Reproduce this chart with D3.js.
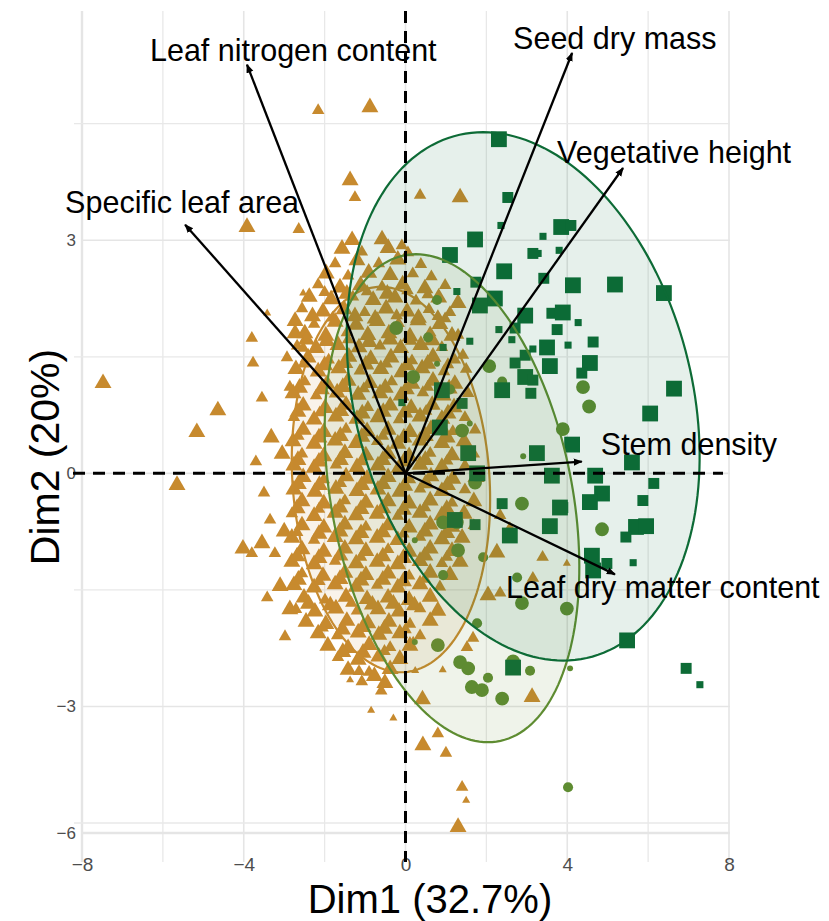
<!DOCTYPE html>
<html>
<head>
<meta charset="utf-8">
<script src="https://cdn.jsdelivr.net/npm/d3@7"></script>
<style>
  html, body { margin: 0; padding: 0; background: #fff; }
  svg { display: block; }
</style>
</head>
<body>
<svg id="chart" width="829" height="921"></svg>
<script>
// ---------------- DATA ----------------
// Individuals (Dim1, Dim2, size class) for three groups
const triangles = [
  [-1.57,2.89,3],[-1.08,2.85,2],[-0.43,2.90,3],[0.06,2.84,2],
  [-1.74,2.70,2],[-1.20,2.74,3],[-0.66,2.70,2],[-0.19,2.75,3],[0.38,2.69,2],
  [-1.96,2.57,3],[-1.42,2.54,2],[-0.91,2.58,3],[-0.38,2.55,3],[0.18,2.57,2],[0.64,2.53,2],
  [-2.16,2.43,2],[-1.62,2.39,3],[-1.11,2.42,3],[-0.58,2.40,2],[-0.07,2.43,3],[0.48,2.38,3],[0.98,2.42,2],
  [-2.38,2.27,3],[-1.84,2.24,3],[-1.30,2.27,2],[-0.80,2.23,3],[-0.26,2.26,3],[0.26,2.22,2],[0.82,2.26,3],
  [-2.56,2.12,2],[-2.04,2.08,3],[-1.52,2.11,3],[-1.01,2.07,2],[-0.48,2.12,3],[0.04,2.08,3],[0.58,2.11,2],[1.10,2.07,2],
  [-2.73,1.96,3],[-2.26,1.92,2],[-1.74,1.95,3],[-1.22,1.91,3],[-0.70,1.96,3],[-0.17,1.93,2],[0.31,1.97,3],[0.85,1.92,3],
  [-2.49,1.80,3],[-1.97,1.77,3],[-1.45,1.81,2],[-0.93,1.78,3],[-0.41,1.80,3],[0.11,1.76,3],[0.61,1.81,2],[1.15,1.77,3],
  [-2.68,1.64,2],[-2.21,1.61,3],[-1.67,1.65,3],[-1.15,1.62,3],[-0.63,1.64,2],[-0.12,1.61,3],[0.38,1.65,3],[0.90,1.62,2],
  [-2.41,1.49,3],[-1.90,1.46,2],[-1.40,1.50,3],[-0.86,1.47,3],[-0.36,1.49,3],[0.16,1.45,2],[0.68,1.50,3],[1.22,1.46,2],
  [-2.71,1.34,3],[-2.16,1.31,3],[-1.65,1.35,3],[-1.13,1.32,2],[-0.61,1.34,3],[-0.09,1.30,3],[0.41,1.35,3],[0.95,1.31,2],[1.50,1.34,2],
  [-2.49,1.18,2],[-1.94,1.15,3],[-1.42,1.19,3],[-0.88,1.16,3],[-0.34,1.18,2],[0.16,1.15,3],[0.68,1.19,3],[1.22,1.15,3],
  [-2.78,1.03,3],[-2.21,1.00,2],[-1.69,1.04,3],[-1.17,1.01,3],[-0.63,1.03,3],[-0.11,1.00,3],[0.43,1.04,2],[0.93,1.00,3],[1.55,1.03,2],
  [-2.53,0.87,3],[-1.99,0.84,3],[-1.47,0.88,3],[-0.93,0.85,2],[-0.38,0.87,3],[0.14,0.84,3],[0.66,0.88,3],[1.20,0.85,3],
  [-2.76,0.72,2],[-2.26,0.69,3],[-1.72,0.73,3],[-1.20,0.70,3],[-0.68,0.72,3],[-0.16,0.69,2],[0.36,0.73,3],[0.90,0.70,3],[1.47,0.72,2],
  [-2.53,0.56,3],[-2.02,0.53,3],[-1.47,0.57,2],[-0.95,0.54,3],[-0.43,0.56,3],[0.11,0.53,3],[0.63,0.57,3],[1.17,0.54,2],[1.72,0.56,2],
  [-2.78,0.41,3],[-2.26,0.38,3],[-1.74,0.42,3],[-1.22,0.39,3],[-0.70,0.41,2],[-0.19,0.38,3],[0.36,0.42,3],[0.90,0.39,3],[1.45,0.41,3],
  [-2.56,0.25,2],[-2.02,0.22,3],[-1.50,0.26,3],[-0.98,0.23,3],[-0.43,0.25,3],[0.09,0.22,3],[0.61,0.26,2],[1.15,0.23,3],[1.69,0.25,2],
  [-2.76,0.10,3],[-2.26,0.07,3],[-1.72,0.11,2],[-1.20,0.08,3],[-0.68,0.10,3],[-0.16,0.07,3],[0.36,0.11,3],[0.90,0.08,3],[1.47,0.10,2],
  [-2.53,-0.05,3],[-2.02,-0.08,2],[-1.47,-0.04,3],[-0.95,-0.07,3],[-0.43,-0.05,3],[0.11,-0.08,2],[0.63,-0.04,3],[1.17,-0.07,3],[1.74,-0.05,3],
  [-2.76,-0.21,3],[-2.24,-0.24,3],[-1.72,-0.20,3],[-1.20,-0.23,3],[-0.68,-0.21,3],[-0.14,-0.24,3],[0.36,-0.20,2],[0.90,-0.23,3],[1.47,-0.21,2],
  [-2.56,-0.36,3],[-2.02,-0.39,3],[-1.50,-0.35,2],[-0.98,-0.38,3],[-0.43,-0.36,3],[0.09,-0.39,3],[0.61,-0.35,3],[1.15,-0.38,2],[1.69,-0.36,3],
  [-2.81,-0.52,2],[-2.26,-0.55,3],[-1.74,-0.51,3],[-1.22,-0.54,3],[-0.70,-0.52,3],[-0.19,-0.55,2],[0.36,-0.51,3],[0.90,-0.54,3],[1.45,-0.52,3],
  [-2.56,-0.67,3],[-2.02,-0.70,3],[-1.50,-0.66,3],[-0.98,-0.69,2],[-0.43,-0.67,3],[0.09,-0.70,3],[0.61,-0.66,3],[1.15,-0.69,3],[1.69,-0.67,2],
  [-2.81,-0.83,3],[-2.26,-0.86,2],[-1.74,-0.82,3],[-1.22,-0.85,3],[-0.70,-0.83,3],[-0.19,-0.86,3],[0.36,-0.82,2],[0.90,-0.85,3],[1.40,-0.83,3],
  [-2.56,-0.98,3],[-2.02,-1.01,3],[-1.50,-0.97,3],[-0.98,-1.00,3],[-0.43,-0.98,2],[0.09,-1.01,3],[0.61,-0.97,3],[1.15,-1.00,3],
  [-2.81,-1.14,3],[-2.26,-1.17,3],[-1.74,-1.13,2],[-1.22,-1.16,3],[-0.70,-1.14,3],[-0.19,-1.17,3],[0.36,-1.13,3],[0.90,-1.16,2],[1.35,-1.14,3],
  [-2.56,-1.29,2],[-2.04,-1.32,3],[-1.50,-1.28,3],[-0.98,-1.31,3],[-0.43,-1.29,3],[0.09,-1.32,2],[0.61,-1.28,3],[1.10,-1.31,3],
  [-2.76,-1.44,3],[-2.26,-1.47,3],[-1.74,-1.43,3],[-1.22,-1.46,3],[-0.70,-1.44,2],[-0.19,-1.47,3],[0.36,-1.43,3],[0.85,-1.46,2],
  [-2.51,-1.60,3],[-1.99,-1.63,2],[-1.47,-1.59,3],[-0.95,-1.62,3],[-0.43,-1.60,3],[0.09,-1.63,3],[0.61,-1.59,3],
  [-2.71,-1.75,2],[-2.24,-1.78,3],[-1.72,-1.74,3],[-1.20,-1.77,2],[-0.68,-1.75,3],[-0.16,-1.78,3],[0.36,-1.74,2],[0.80,-1.77,3],
  [-2.46,-1.91,3],[-1.97,-1.94,3],[-1.45,-1.90,3],[-0.93,-1.93,3],[-0.41,-1.91,3],[0.11,-1.94,2],[0.61,-1.90,3],
  [-2.16,-2.06,3],[-1.69,-2.09,2],[-1.17,-2.05,3],[-0.66,-2.08,3],[-0.14,-2.06,3],[0.36,-2.09,2],
  [-1.92,-2.22,3],[-1.42,-2.25,3],[-0.90,-2.21,3],[-0.38,-2.24,2],[0.11,-2.22,3],
  [-1.67,-2.37,2],[-1.17,-2.40,3],[-0.66,-2.36,3],[-0.14,-2.39,3],
  [-1.42,-2.53,3],[-0.90,-2.56,2],[-0.38,-2.52,3],
  [-1.08,-2.68,2],[-0.51,-2.70,3],
  [-2.00,2.33,2],[-1.45,2.31,3],[-0.95,2.34,2],[-0.45,2.31,3],[0.05,2.35,2],[0.55,2.30,2],
  [-2.30,2.02,3],[-1.80,2.00,2],[-1.25,2.02,3],[-0.75,1.99,3],[-0.22,2.03,2],[0.32,2.00,3],[0.80,2.02,2],
  [-2.45,1.72,3],[-1.95,1.70,3],[-1.42,1.72,2],[-0.90,1.69,3],[-0.38,1.72,3],[0.14,1.70,2],[0.66,1.71,3],
  [-2.52,1.41,2],[-2.00,1.39,3],[-1.50,1.42,3],[-0.98,1.40,3],[-0.47,1.41,2],[0.04,1.39,3],[0.55,1.41,3],[1.05,1.40,2],
  [-2.62,1.10,3],[-2.08,1.08,3],[-1.55,1.11,3],[-1.03,1.09,2],[-0.50,1.10,3],[0.02,1.08,3],[0.55,1.11,2],[1.08,1.09,3],
  [-2.66,0.79,3],[-2.12,0.78,2],[-1.60,0.80,3],[-1.07,0.77,3],[-0.55,0.79,3],[-0.02,0.78,3],[0.51,0.80,2],[1.05,0.77,3],
  [-2.65,0.48,2],[-2.14,0.46,3],[-1.61,0.48,3],[-1.08,0.47,3],[-0.56,0.48,2],[-0.04,0.46,3],[0.49,0.48,3],[1.03,0.46,3],
  [-2.66,0.17,3],[-2.14,0.15,3],[-1.61,0.17,3],[-1.09,0.15,2],[-0.56,0.17,3],[-0.04,0.15,3],[0.49,0.17,3],[1.03,0.16,2],
  [-2.65,-0.14,3],[-2.13,-0.15,3],[-1.60,-0.13,2],[-1.08,-0.15,3],[-0.56,-0.14,3],[-0.02,-0.16,3],[0.50,-0.13,3],[1.04,-0.15,3],
  [-2.68,-0.45,3],[-2.14,-0.46,2],[-1.62,-0.44,3],[-1.10,-0.46,3],[-0.56,-0.45,3],[-0.05,-0.47,3],[0.48,-0.44,2],[1.02,-0.46,3],
  [-2.68,-0.76,2],[-2.14,-0.78,3],[-1.62,-0.75,3],[-1.10,-0.77,3],[-0.56,-0.76,3],[-0.05,-0.78,2],[0.48,-0.75,3],[1.02,-0.77,3],
  [-2.68,-1.07,3],[-2.14,-1.09,3],[-1.62,-1.06,3],[-1.10,-1.08,2],[-0.56,-1.07,3],[-0.05,-1.09,3],[0.48,-1.06,3],[1.02,-1.08,2],
  [-2.65,-1.37,3],[-2.13,-1.39,2],[-1.62,-1.36,3],[-1.10,-1.38,3],[-0.56,-1.37,3],[-0.05,-1.39,3],[0.48,-1.36,2],
  [-2.40,-1.68,3],[-1.86,-1.70,3],[-1.34,-1.67,2],[-0.82,-1.69,3],[-0.30,-1.68,3],[0.22,-1.70,3],
  [-2.05,-1.99,2],[-1.56,-2.01,3],[-1.05,-1.98,3],[-0.52,-2.00,3],[0.00,-2.01,2],
  [-1.55,-2.30,3],[-1.05,-2.31,3],[-0.52,-2.29,2],
  [-0.77,-2.61,3],
  [-2.16,4.67,2],[-0.88,4.71,3],[-1.37,3.77,3],[-1.25,3.55,2],[-3.92,3.17,3],[-2.64,3.14,2],[-1.32,3.00,3],[-0.58,3.01,3],[-0.09,2.93,2],
  [0.36,3.58,2],[1.35,3.55,3],[1.30,2.19,3],[0.98,1.99,2],[1.30,1.78,2],[1.42,1.52,2],
  [-7.48,1.16,3],[-5.16,0.53,3],[-4.64,0.81,3],[-5.65,-0.15,3],[-2.53,2.32,1],[-3.42,2.06,1],[-2.73,1.80,3],[-3.80,1.74,2],
  [-2.93,1.49,2],[-3.77,1.42,2],[-2.53,1.61,2],[-3.55,0.97,2],[-2.86,1.11,2],[-3.32,0.46,3],
  [-4.02,-0.97,3],[-3.80,-1.03,2],[-3.55,-0.90,3],[-3.23,-1.03,2],[-3.35,-0.60,2],[-3.00,-0.75,3],[-3.10,-1.45,3],
  [-2.86,-1.75,3],[-3.42,-1.60,2],[-2.98,-2.10,2],[-3.70,0.15,2],[-3.05,0.25,3],[-3.50,-0.25,2],
  [-1.37,-2.66,1],[-0.85,-3.05,1],[-1.15,-2.55,2],[-0.60,-2.80,2],[0.43,-3.50,3],[0.80,-3.35,2],[1.00,-3.60,2],
  [1.40,-4.04,2],[1.50,-4.21,1],[1.30,-5.10,3],[3.13,-2.88,3],[0.19,-2.15,1],[0.24,-2.54,1],[0.42,-2.91,3],
  [-0.30,-3.15,1],[1.67,-2.12,2],[1.52,-2.24,2],[0.92,-2.53,1],
  [2.34,-0.54,2],[2.58,-0.71,2],[2.26,-1.02,3],[2.04,-1.57,3],[2.34,-1.54,2],[3.39,-1.08,2],[3.99,-1.16,1],[3.15,-1.35,2]
];
const circles = [
  [2.07,1.38,3],[2.39,1.18,2],[4.39,1.11,3],[4.54,0.86,3],[3.89,0.57,3],[4.86,-0.72,3],[2.91,0.22,1],[2.88,-0.39,3],
  [1.72,-0.12,3],[0.93,-0.63,3],[1.27,-0.63,3],[1.92,-1.08,2],[1.30,-0.99,3],[0.93,-1.31,2],[2.76,-1.34,2],[2.88,-1.67,3],
  [3.99,-1.74,3],[1.77,-1.93,2],[0.80,-2.21,3],[0.23,-2.17,1],[1.35,-2.43,3],[1.55,-2.51,3],[2.66,-2.42,3],[3.08,-2.54,2],
  [2.04,-2.63,2],[1.64,-2.75,3],[1.89,-2.79,3],[2.39,-2.90,3],[4.07,-2.51,1],[4.02,-4.04,2],[0.78,2.23,2],[-0.23,1.87,3],
  [0.56,1.75,2],[0.19,1.24,3],[1.40,0.55,3],[1.59,0.64,1],[1.10,1.08,2],[0.78,1.41,1],[0.23,-0.86,1]
];
const squares = [
  [2.31,4.30,3],[2.53,3.55,2],[2.36,3.19,1],[1.72,3.01,3],[3.40,3.05,1],[3.85,3.17,3],[4.09,3.19,2],[3.28,2.83,1],
  [3.80,2.87,1],[1.10,2.81,3],[2.44,2.60,3],[3.42,2.51,2],[4.14,2.42,3],[5.18,2.43,3],[6.39,2.32,3],[1.74,2.46,2],
  [2.21,2.25,3],[1.84,2.16,3],[2.96,2.03,3],[2.71,1.87,2],[2.31,1.85,1],[3.62,2.06,2],[3.89,2.07,3],[3.75,1.85,2],
  [4.27,1.94,1],[1.59,1.70,1],[2.63,1.72,1],[3.50,1.62,3],[4.02,1.65,1],[4.64,1.69,2],[3.15,1.60,1],[2.96,1.52,2],
  [4.56,1.42,3],[4.36,1.29,2],[3.57,1.38,3],[2.71,1.42,2],[2.96,1.24,3],[3.15,1.20,2],[2.39,1.07,3],[3.10,1.03,2],
  [6.64,1.09,3],[1.27,2.34,1],[6.05,0.77,3],[4.12,0.37,3],[5.60,0.14,3],[4.69,-0.03,3],[6.14,-0.13,2],[4.86,-0.26,3],
  [4.56,-0.37,3],[5.87,-0.35,2],[3.89,-0.44,2],[5.70,-0.69,3],[5.95,-0.68,3],[5.45,-0.82,2],[4.61,-1.06,3],[4.98,-1.16,2],
  [4.64,-1.25,3],[5.63,-1.15,1],[3.25,0.26,3],[3.62,-0.03,3],[2.39,-0.39,2],[3.82,-0.44,3],[3.57,-0.68,3],[2.58,-0.80,3],
  [1.72,-0.66,2],[1.22,-0.60,3],[5.48,-2.15,3],[6.94,-2.51,2],[7.28,-2.72,1],[2.66,-2.50,3],[1.55,0.26,3],[1.84,-0.03,2],
  [0.93,1.62,1],[0.90,1.07,3],[1.40,0.90,2],[0.85,0.59,3],[1.77,0.00,3],[-0.09,0.91,1],[3.15,2.83,2]
];

// Variables (loadings, scaled)
const varNames = ["Leaf nitrogen content","Seed dry mass","Vegetative height","Specific leaf area","Stem density","Leaf dry matter content"];
const varDim1  = [-3.92, 4.12, 5.38, -5.45, 4.36, 5.18];
const varDim2  = [ 5.26, 5.41, 3.93,  3.20, 0.15, -1.30];

// Concentration ellipses per group: centre, half-axes and shear (Dim units)
const ellipseGroup = ["triangle","circle","square"];
const ellipseCx    = [-0.36, 1.15, 2.91];
const ellipseCy    = [-0.08, -0.32, 0.99];
const ellipseA     = [2.44, 3.02, 4.25];
const ellipseB     = [2.48, 3.14, 3.40];
const ellipseShear = [-0.25, -0.89, -0.99];

// Axis ticks
const xTicks = [-8, -4, 0, 4, 8];
const xMinor = [-6, -2, 2, 6];
const yTicks = [3, 0, -3, -6];
const yMinor = [4.5, 1.5, -1.5, -4.5];

// ---------------- DRAWING ----------------
const COL = { triangle: "#C78A2E", circle: "#5E8C31", square: "#0D6B36" };
const FONT = "Liberation Sans, Arial, Helvetica, sans-serif";
const svg = d3.select("#chart");

const x = d3.scaleLinear().domain([-8, 8]).range([82, 729]);
const y = d3.scaleLinear().domain([-6.37, -6, -4.5, 5.95]).range([862, 833, 823, 11]);

const grid = svg.append("g");
grid.selectAll("line.vmin").data(xMinor).join("line")
  .attr("x1", d => x(d)).attr("x2", d => x(d)).attr("y1", 11).attr("y2", 862)
  .attr("stroke", "#e8e8e8").attr("stroke-width", 1.3);
grid.selectAll("line.vmaj").data(xTicks).join("line")
  .attr("x1", d => x(d)).attr("x2", d => x(d)).attr("y1", 11).attr("y2", 862)
  .attr("stroke", "#e5e5e5").attr("stroke-width", d => d === -8 ? 2.4 : 1.6);
grid.selectAll("line.hmin").data(yMinor).join("line")
  .attr("x1", 74).attr("x2", 730).attr("y1", d => y(d)).attr("y2", d => y(d))
  .attr("stroke", "#e8e8e8").attr("stroke-width", 1.3);
grid.selectAll("line.hmaj").data(yTicks).join("line")
  .attr("x1", 82).attr("x2", 730).attr("y1", d => y(d)).attr("y2", d => y(d))
  .attr("stroke", "#e5e5e5").attr("stroke-width", d => d === -6 ? 2.6 : 1.6);

const xAxis = svg.append("g").attr("transform", "translate(0,851)")
  .call(d3.axisBottom(x).tickValues(xTicks).tickSize(0).tickPadding(7));
xAxis.select(".domain").remove();
xAxis.selectAll("text").attr("font-family", FONT).attr("font-size", 19).attr("fill", "#4d4d4d");

const yAxis = svg.append("g").attr("transform", "translate(82,0)")
  .call(d3.axisLeft(y).tickValues(yTicks).tickSize(0).tickPadding(6));
yAxis.select(".domain").remove();
yAxis.selectAll("text").attr("font-family", FONT).attr("font-size", 17).attr("fill", "#4d4d4d");

// points
const sizeTri = d3.scaleOrdinal().domain([1,2,3]).range([28, 68, 124]);
const sizeSq  = d3.scaleOrdinal().domain([1,2,3]).range([50, 120, 250]);
const sizeCi  = d3.scaleOrdinal().domain([1,2,3]).range([28, 80, 150]);
const pts = svg.append("g");
pts.selectAll("path.tri").data(triangles).join("path")
  .attr("transform", d => `translate(${x(d[0])},${y(d[1])})`)
  .attr("d", d => d3.symbol(d3.symbolTriangle, sizeTri(d[2]))())
  .attr("fill", COL.triangle);
pts.selectAll("path.ci").data(circles).join("path")
  .attr("transform", d => `translate(${x(d[0])},${y(d[1])})`)
  .attr("d", d => d3.symbol(d3.symbolCircle, sizeCi(d[2]))())
  .attr("fill", COL.circle);
pts.selectAll("path.sq").data(squares).join("path")
  .attr("transform", d => `translate(${x(d[0])},${y(d[1])})`)
  .attr("d", d => d3.symbol(d3.symbolSquare, sizeSq(d[2]))())
  .attr("fill", COL.square);

// ellipses
const tSteps = d3.range(0, 361, 2).map(a => a * Math.PI / 180);
const ellLine = d3.line().curve(d3.curveLinearClosed);
ellipseGroup.forEach((g, i) => {
  const pathPts = tSteps.map(t => [
    x(ellipseCx[i] + ellipseA[i] * Math.cos(t) + ellipseShear[i] * Math.sin(t)),
    y(ellipseCy[i] + ellipseB[i] * Math.sin(t))
  ]);
  svg.append("path").attr("d", ellLine(pathPts))
    .attr("fill", COL[g]).attr("fill-opacity", 0.1)
    .attr("stroke", COL[g]).attr("stroke-width", 2.2);
});

// reference dashed lines
svg.append("line").attr("x1", 73).attr("x2", 723).attr("y1", y(0)).attr("y2", y(0))
  .attr("stroke", "#000").attr("stroke-width", 3).attr("stroke-dasharray", "12,8");
svg.append("line").attr("x1", x(0)).attr("x2", x(0)).attr("y1", 11).attr("y2", 862)
  .attr("stroke", "#000").attr("stroke-width", 3).attr("stroke-dasharray", "12,8");

// arrows
const defs = svg.append("defs");
defs.append("marker").attr("id", "arr").attr("viewBox", "0 -5 10 10")
  .attr("refX", 9).attr("refY", 0).attr("markerWidth", 9).attr("markerHeight", 9)
  .attr("markerUnits", "userSpaceOnUse").attr("orient", "auto")
  .append("path").attr("d", "M0,-4L10,0L0,4Z").attr("fill", "#000");

const labelOffset = [[-97,-4],[-59,-4],[-66,-5],[-120,-12],[19,-7],[-109,24]];
const arrows = svg.append("g");
varNames.forEach((name, i) => {
  const tx = x(varDim1[i]), ty = y(varDim2[i]);
  arrows.append("line").attr("x1", x(0)).attr("y1", y(0)).attr("x2", tx).attr("y2", ty)
    .attr("stroke", "#000").attr("stroke-width", 2.3).attr("marker-end", "url(#arr)");
  arrows.append("text").attr("x", tx + labelOffset[i][0]).attr("y", ty + labelOffset[i][1])
    .attr("font-family", FONT).attr("font-size", 30.5).attr("fill", "#000").text(name);
});

// axis titles
svg.append("text").attr("x", 430).attr("y", 913).attr("text-anchor", "middle")
  .attr("font-family", FONT).attr("font-size", 40).attr("fill", "#000").text("Dim1 (32.7%)");
svg.append("text").attr("transform", "translate(59,457) rotate(-90)").attr("text-anchor", "middle")
  .attr("font-family", FONT).attr("font-size", 41).attr("fill", "#000").text("Dim2 (20%)");
</script>
</body>
</html>
